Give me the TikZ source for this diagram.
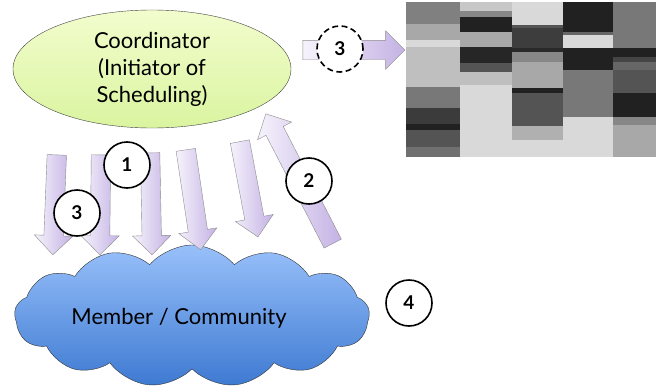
\documentclass[tikz,border=0pt]{standalone}
\usepackage{fontspec}
\setsansfont{Lato}
\usetikzlibrary{shapes.geometric,shapes.symbols,shapes.arrows}
\definecolor{lavlight}{RGB}{246,243,252}
\definecolor{lavdark}{RGB}{196,178,228}
\definecolor{limelight}{RGB}{242,253,205}
\definecolor{limedark}{RGB}{218,244,160}
\definecolor{skytop}{RGB}{152,192,250}
\definecolor{skybottom}{RGB}{62,122,210}

\begin{document}
\begin{tikzpicture}[x=1pt,y=-1pt,
  fatarrow/.style={single arrow, draw=black!45, left color=lavlight, right color=lavdark, inner xsep=0pt, inner ysep=9.5pt, single arrow head extend=9.5pt, sloped, allow upside down},
  numcirc/.style={circle, draw, line width=1.6pt, fill=white, minimum size=46pt, inner sep=0pt, font=\sffamily\bfseries\fontsize{19}{19}\selectfont},
  bigtext/.style={font=\sffamily\fontsize{22}{27}\selectfont, align=center}]
\useasboundingbox (0,0) rectangle (656,391);

\foreach \xa/\xb/\rows in {406/460/{2/24/50,24/40/34,40/47/15,47/87/25,87/108/53,108/124/77,124/130/87,130/147/67,147/157/56},
  460/512/{2/11/22,11/17/47,17/32/87,32/47/34,47/63/85,63/72/67,72/85/25,85/157/15},
  512/563/{2/25/15,25/28/67,28/48/76,48/52/84,52/62/47,62/88/34,88/93/87,93/126/67,126/140/31,140/157/15},
  563/613/{2/32/87,32/35/60,35/48/15,48/70/87,70/117/53,117/157/15},
  613/656/{2/48/53,48/57/87,57/62/73,62/70/60,70/93/67,93/117/87,117/125/47,125/157/34}}
  {\foreach \ya/\yb/\g in \rows {\fill[black!\g] (\xa,\ya) rectangle (\xb,\yb);}}

\node[ellipse, draw=black!75, top color=limelight, bottom color=limedark, minimum width=278pt, minimum height=118pt, bigtext] (coord) at (152,69) {Coordinator\\(Initiator of\\Scheduling)};

\node[cloud, cloud puffs=13, cloud puff arc=100, cloud ignores aspect, draw=black!80, top color=skytop, bottom color=skybottom, minimum width=355pt, minimum height=142pt] (comm) at (192,316) {};
\node[bigtext] (commtext) at (179,318) {Member / Community};

\coordinate (a1) at (57,150);  \coordinate (a2) at (53,250);
\coordinate (b1) at (101,150); \coordinate (b2) at (100,250);
\coordinate (c1) at (150,148); \coordinate (c2) at (152,250);
\coordinate (d1) at (185,145); \coordinate (d2) at (200,245);
\coordinate (e1) at (239,137); \coordinate (e2) at (257,232);
\coordinate (u1) at (335,248); \coordinate (u2) at (268,118);
\coordinate (r1) at (298,50);  \coordinate (r2) at (400,50);

\path (a1) -- (a2) node[fatarrow, midway, minimum height=100pt] {};
\path (b1) -- (b2) node[fatarrow, midway, minimum height=100pt] {};
\path (c1) -- (c2) node[fatarrow, midway, minimum height=102pt] {};
\path (d1) -- (d2) node[fatarrow, midway, minimum height=101pt] {};
\path (e1) -- (e2) node[fatarrow, midway, minimum height=97pt] {};
\path (u1) -- (u2) node[fatarrow, midway, minimum height=146pt] {};
\path (r1) -- (r2) node[fatarrow, midway, minimum height=102pt] {};

\node[numcirc] (n1) at (127,165) {1};
\node[numcirc] (n3) at (77,213) {3};
\node[numcirc] (n2) at (309,181) {2};
\node[numcirc] (n4) at (409,303) {4};
\node[numcirc, dash pattern=on 6pt off 3.5pt] (n3b) at (340,49) {3};
\end{tikzpicture}
\end{document}
